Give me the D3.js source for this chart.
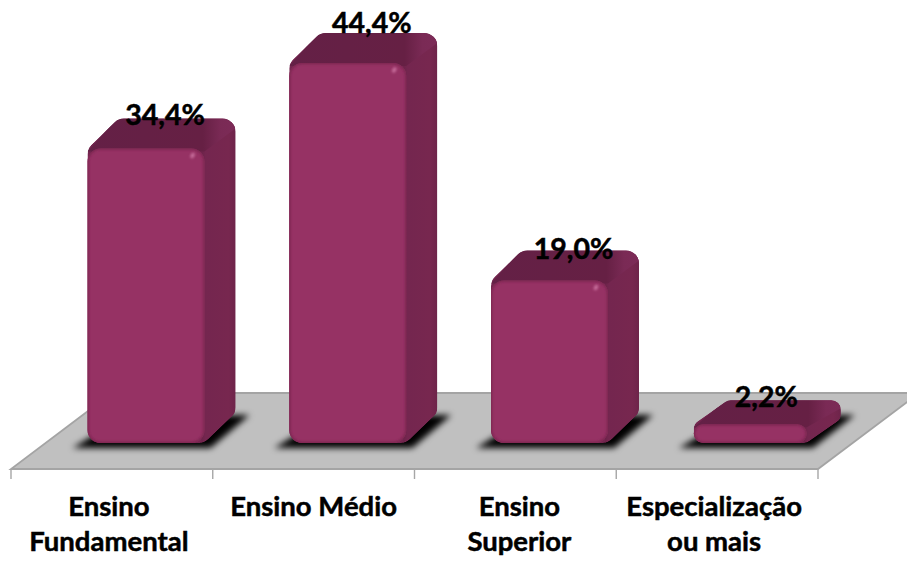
<!DOCTYPE html>
<html><head><meta charset="utf-8">
<script src="https://cdn.jsdelivr.net/npm/d3@7"></script>
<style>html,body{margin:0;padding:0;background:#fff}svg{display:block}text{font-family:Lato,"Noto Sans",sans-serif;font-weight:700;fill:#000;stroke:#000;stroke-width:.5}</style>
</head><body><svg id="c" width="907" height="561"></svg>
<script>
const categories=["Ensino Fundamental","Ensino Médio","Ensino Superior","Especialização ou mais"];
const categoryLines=[["Ensino","Fundamental"],["Ensino Médio"],["Ensino","Superior"],["Especialização","ou mais"]];
const values=[34.4,44.4,19.0,2.2];
const valueLabels=["34,4%","44,4%","19,0%","2,2%"];

const svg=d3.select("#c"),W=907,H=561;
const x=d3.scaleBand().domain(categories).range([11,818]);
const y=d3.scaleLinear().domain([0,44.4]).range([443,63]);
const barW=117,offX=76.5,depthX=31,depthY=30,floorY=469,backY=393,floorDX=101;
const labelDX=[19,24,24,15],labelDY=[24,30,21,17],catDX=[-3,0,4,-3];

const defs=svg.append("defs");
const blur=(id,s)=>defs.append("filter").attr("id",id).attr("x","-30%").attr("y","-30%").attr("width","160%").attr("height","160%")
  .append("feGaussianBlur").attr("stdDeviation",s);
blur("b3",3.2);blur("b2",2.2);blur("b1",1);
const grad=(id,x2,y2,stops)=>{const g=defs.append("linearGradient").attr("id",id).attr("x1",0).attr("y1",0).attr("x2",x2).attr("y2",y2);
  stops.forEach(s=>g.append("stop").attr("offset",s[0]).attr("stop-color",s[1]));};
grad("gSide",1,0,[[0,"#6c2349"],[0.12,"#74264f"],[0.8,"#77274f"],[1,"#6e244a"]]);
grad("gTop",1,0,[[0,"#642046"],[0.78,"#662044"],[0.9,"#7a2a55"],[1,"#7c2b57"]]);

function rounded(pts,rs){
  const p=d3.path(),n=pts.length;
  const mid=(a,b)=>[(a[0]+b[0])/2,(a[1]+b[1])/2];
  const s=mid(pts[n-1],pts[0]);p.moveTo(s[0],s[1]);
  pts.forEach((q,i)=>{const nx=pts[(i+1)%n];p.arcTo(q[0],q[1],nx[0],nx[1],rs[i]);});
  p.closePath();return p.toString();
}
const poly=pts=>{const p=d3.path();pts.forEach((q,i)=>i?p.lineTo(q[0],q[1]):p.moveTo(q[0],q[1]));p.closePath();return p.toString();};

// floor
svg.append("path").attr("d",poly([[11,floorY],[818,floorY],[818+floorDX,backY],[11+floorDX,backY]]))
  .attr("fill","#c0c0c0").attr("stroke","#a4a4a4").attr("stroke-width",1.8);
// ticks
svg.selectAll("line.t").data(d3.range(5)).join("line")
  .attr("x1",i=>11+i*x.step()).attr("x2",i=>11+i*x.step())
  .attr("y1",floorY).attr("y2",floorY+10).attr("stroke","#a6a6a6").attr("stroke-width",1.4);

const g=svg.selectAll("g.bar").data(values).join("g").attr("class","bar");
g.each(function(v,i){
  const s=d3.select(this);
  const y1=y(0),y0=y(v),h=y1-y0,small=h<40;
  const x0=x(categories[i])+offX+(small?1:0),x1=x0+barW-(small?4:0);
  const r=Math.min(13,h/2),dy=Math.min(depthY,h+5),dx=depthX+(small?3:0);
  // shadow
  s.append("path").attr("d",poly([[x0-15,y1+5],[x1+6,y1+5],[x1+dx+14,y1-28],[x0+dx+8,y1-28]]))
    .attr("fill","#000").attr("filter","url(#b3)");
  const sil=[[x0,y1],[x1,y1],[x1+dx,y1-dy],[x1+dx,y0-dy],[x0+dx,y0-dy],[x0,y0]];
  const id="clip"+i;
  const silD=rounded(sil,[r,r,r,r,r,r]);
  defs.append("clipPath").attr("id",id).append("path").attr("d",silD);
  const c=s.append("g").attr("clip-path",`url(#${id})`);
  c.append("path").attr("d",silD).attr("fill","#74264f");
  // side
  c.append("path").attr("d",poly([[x1-3,y1],[x1+dx,y1-dy],[x1+dx,y0-dy],[x1-3,y0]])).attr("fill","url(#gSide)");
  // top
  c.append("path").attr("d",poly([[x0,y0+3],[x1,y0+3],[x1+dx,y0-dy+(small?8:10)],[x1+dx,y0-dy-2],[x0+dx,y0-dy-2]])).attr("fill","url(#gTop)");
  // front
  const fd=rounded([[x0,y0],[x1,y0],[x1,y1],[x0,y1]],[r,r,r,r]);
  const fid="fclip"+i;
  defs.append("clipPath").attr("id",fid).append("path").attr("d",fd);
  s.append("path").attr("d",fd).attr("fill","#963264");
  s.append("g").attr("clip-path",`url(#${fid})`).append("path").attr("d",fd)
    .attr("fill","none").attr("stroke","#7a2650").attr("stroke-width",2.5).attr("filter","url(#b1)");
  // glint
  if(!small) s.append("ellipse").attr("cx",x1-12).attr("cy",y0+7).attr("rx",2).attr("ry",3)
    .attr("fill","#c46a98").attr("transform",`rotate(30 ${x1-12} ${y0+7})`).attr("filter","url(#b1)");
});

// data labels
svg.selectAll("text.v").data(valueLabels).join("text").attr("class","v")
  .attr("x",(d,i)=>x(categories[i])+offX+barW/2+labelDX[i])
  .attr("y",(d,i)=>y(values[i])-labelDY[i])
  .attr("text-anchor","middle").attr("font-size",28.5).text(d=>d);

// category labels
categoryLines.forEach((ls,i)=>{
  ls.forEach((t,j)=>{
    svg.append("text").attr("x",x(categories[i])+x.bandwidth()/2+catDX[i])
      .attr("y",516+j*35).attr("text-anchor","middle").attr("font-size",27.5).text(t);
  });
});
</script></body></html>
